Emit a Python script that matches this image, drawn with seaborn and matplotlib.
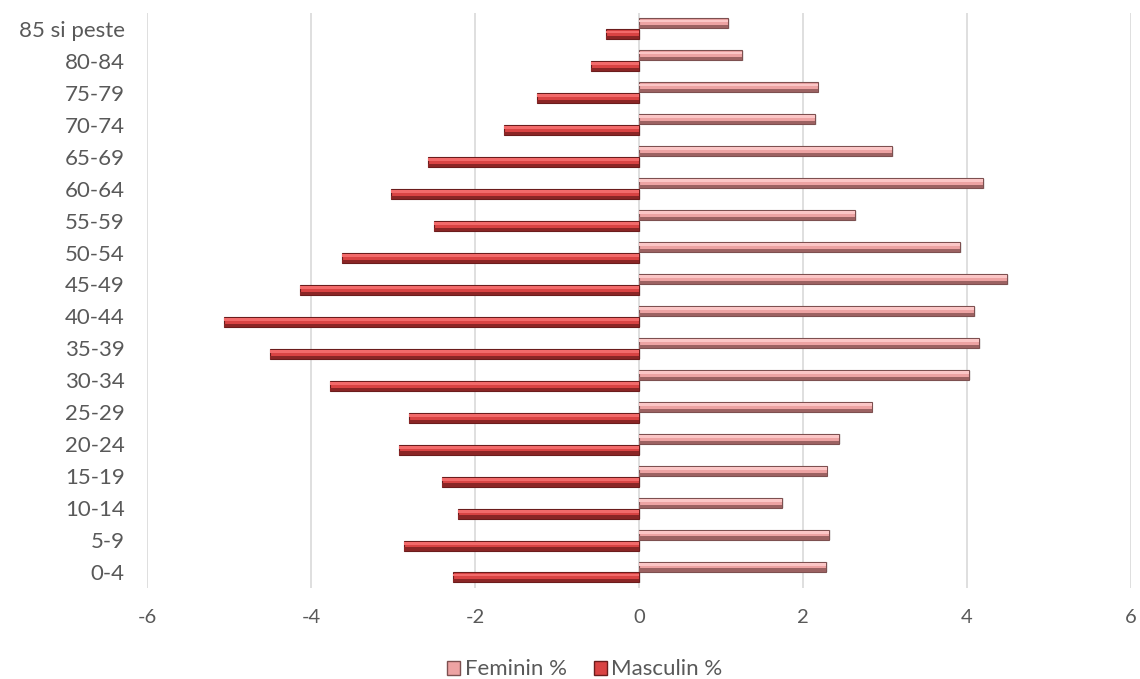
import numpy as np
import pandas as pd
import matplotlib
matplotlib.use('Agg')
import matplotlib.pyplot as plt
from matplotlib.patches import Rectangle, Patch
import seaborn as sns

# ── Data (top row first) ───────────────────────────────────────────────────────
age_groups = ['85 si peste', '80-84', '75-79', '70-74', '65-69', '60-64',
              '55-59', '50-54', '45-49', '40-44', '35-39', '30-34',
              '25-29', '20-24', '15-19', '10-14', '5-9', '0-4']
feminin = [1.09, 1.26, 2.18, 2.15, 3.09, 4.20, 2.64, 3.92, 4.49, 4.09,
           4.15, 4.03, 2.84, 2.44, 2.29, 1.75, 2.32, 2.28]
masculin = [-0.40, -0.58, -1.24, -1.65, -2.57, -3.02, -2.50, -3.62, -4.14, -5.06,
            -4.50, -3.77, -2.80, -2.93, -2.40, -2.21, -2.87, -2.27]
series_names = ['Feminin %', 'Masculin %']
x_ticks = [-6, -4, -2, 0, 2, 4, 6]

df = pd.DataFrame({'Grupa': age_groups, series_names[0]: feminin, series_names[1]: masculin})
long_df = df.melt(id_vars='Grupa', var_name='Sex', value_name='Procent')

FILL = {'Feminin %': '#eda3a3', 'Masculin %': '#d94343'}
LIGHT = {'Feminin %': '#fbc6c6', 'Masculin %': '#f26a6a'}
DARK = {'Feminin %': '#9c6262', 'Masculin %': '#8a2525'}
EDGE = {'Feminin %': '#7d5050', 'Masculin %': '#6b1c1c'}
TEXT = '#595959'

sns.set_style('white')
plt.rcParams['font.family'] = ['Lato', 'DejaVu Sans']

fig = plt.figure(figsize=(11.4, 6.79), dpi=100)
ax = fig.add_axes([0.129, 0.134, 0.863, 0.847])

sns.barplot(data=long_df, y='Grupa', x='Procent', hue='Sex', order=age_groups,
            hue_order=series_names, orient='h', width=0.68, gap=0.08,
            palette=FILL, ax=ax, legend=False, saturation=1)

# bevel look: light stripe on top, dark stripe at the bottom, outline
for i, p in enumerate(list(ax.patches)):
    name = series_names[i // len(age_groups)]
    x, y = p.get_x(), p.get_y()
    w, h = p.get_width(), p.get_height()
    p.set_edgecolor(EDGE[name])
    p.set_linewidth(0.8)
    p.set_zorder(3)
    ax.add_patch(Rectangle((x + 0.02, y + h * 0.06), w, h, facecolor='#c8c8c8',
                           edgecolor='none', alpha=0.35, zorder=2))
    ax.add_patch(Rectangle((x, y + h * 0.12), w, h * 0.28, facecolor=LIGHT[name],
                           edgecolor='none', zorder=4))
    ax.add_patch(Rectangle((x, y + h * 0.68), w, h * 0.32, facecolor=DARK[name],
                           edgecolor='none', zorder=4))

ax.set_xlim(-6, 6)
ax.set_ylim(len(age_groups) - 0.5, -0.5)
ax.set_xticks(x_ticks)
ax.set_xticklabels([str(t) for t in x_ticks])
ax.grid(axis='x', color='#d9d9d9', linewidth=1.2, zorder=0)
ax.set_axisbelow(True)
sns.despine(ax=ax, left=True, bottom=True)
ax.set_xlabel('')
ax.set_ylabel('')
ax.tick_params(axis='both', length=0, colors=TEXT)
ax.tick_params(axis='x', labelsize=14.5, pad=15)
ax.tick_params(axis='y', labelsize=16, pad=16)

handles = [Patch(facecolor=FILL[n], edgecolor=EDGE[n], label=n) for n in series_names]
leg = fig.legend(handles=handles, loc='center', bbox_to_anchor=(0.513, 0.014),
                 ncol=2, frameon=False, fontsize=16, handlelength=0.6,
                 handleheight=0.6, handletextpad=0.2, columnspacing=1.2)
for t in leg.get_texts():
    t.set_color(TEXT)

fig.savefig('out.png', dpi=100)
